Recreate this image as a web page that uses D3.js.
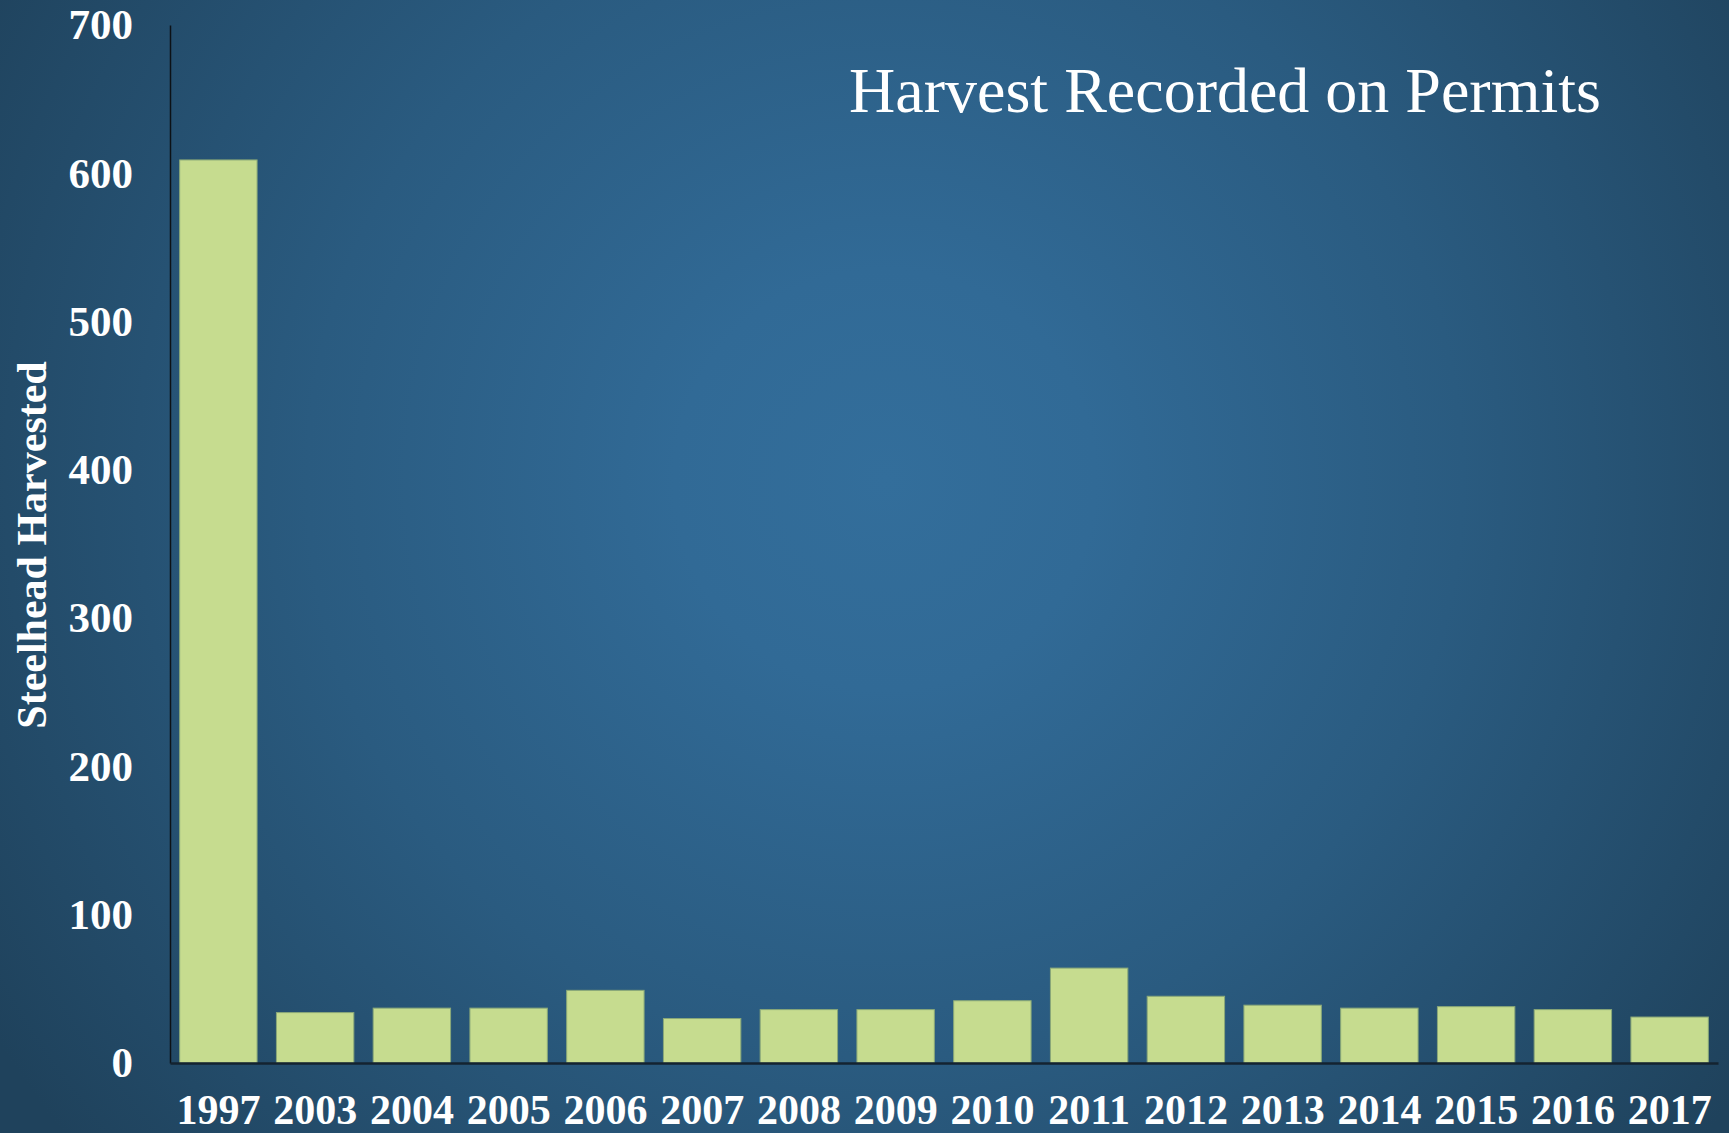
<!DOCTYPE html>
<html>
<head>
<meta charset="utf-8">
<script src="https://cdn.jsdelivr.net/npm/d3@7"></script>
<style>
  html, body { margin: 0; padding: 0; overflow: hidden; background: #22475f; }
  svg { display: block; }
</style>
</head>
<body>
<div class="chart"></div>
<script>
// values
const YEARS = ["1997", "2003", "2004", "2005", "2006", "2007", "2008", "2009",
  "2010", "2011", "2012", "2013", "2014", "2015", "2016", "2017"];
const HARVEST = [609, 34, 37, 37, 49, 30, 36, 36, 42, 64, 45, 39, 37, 38, 36, 31];
const Y_TICKS = [0, 100, 200, 300, 400, 500, 600, 700];
const TITLE = "Harvest Recorded on Permits";
const Y_LABEL = "Steelhead Harvested";

const W = 1729, H = 1133;
const margin = {top: 25, right: 11, bottom: 70, left: 170};
const width = W - margin.left - margin.right,
      height = H - margin.top - margin.bottom;

const svg = d3.select(".chart").append("svg")
  .attr("width", W)
  .attr("height", H);

// background - soft radial glow
const defs = svg.append("defs");
const grad = defs.append("radialGradient")
  .attr("id", "bg")
  .attr("gradientUnits", "userSpaceOnUse")
  .attr("cx", 885).attr("cy", 480).attr("r", 1050);
grad.append("stop").attr("offset", "0").attr("stop-color", "#336e9b");
grad.append("stop").attr("offset", "0.2").attr("stop-color", "#316a96");
grad.append("stop").attr("offset", "0.55").attr("stop-color", "#2a5b80");
grad.append("stop").attr("offset", "1").attr("stop-color", "#1f425c");

svg.append("rect").attr("width", W).attr("height", H).attr("fill", "url(#bg)");

const g = svg.append("g")
  .attr("transform", "translate(" + margin.left + "," + margin.top + ")");

const x = d3.scaleBand()
  .domain(YEARS)
  .range([0, width])
  .paddingInner(0.2)
  .paddingOuter(0.1);

const y = d3.scaleLinear()
  .domain([0, 700])
  .range([height, 0]);

const data = YEARS.map((yr, i) => ({year: yr, value: HARVEST[i]}));

// bars
g.selectAll(".bar")
  .data(data)
  .enter()
  .append("rect")
  .attr("class", "bar")
  .attr("x", d => x(d.year))
  .attr("width", x.bandwidth())
  .attr("y", d => y(d.value))
  .attr("height", d => height - y(d.value))
  .attr("fill", "#c6dc8f")
  .attr("stroke", "#8aa878")
  .attr("stroke-width", 1);

const font = "'Liberation Serif', 'Times New Roman', serif";

// y axis
const yAxis = g.append("g")
  .call(d3.axisLeft(y).tickValues(Y_TICKS).tickSize(0).tickPadding(37));
yAxis.select(".domain").attr("stroke", "#0c1116").attr("stroke-width", 1.5);
yAxis.selectAll("text")
  .attr("fill", "#ffffff")
  .style("font-family", font)
  .style("font-weight", "bold")
  .style("font-size", "43px");

// x axis - labels sit right at the bottom edge like the original
const xAxis = g.append("g")
  .attr("transform", "translate(0," + height + ")")
  .call(d3.axisBottom(x).tickSize(0).tickPadding(31));
xAxis.select(".domain").attr("stroke", "#142330").attr("stroke-width", 2.5);
xAxis.selectAll("text")
  .attr("fill", "#ffffff")
  .style("font-family", font)
  .style("font-weight", "bold")
  .style("font-size", "42px");

// y axis title
svg.append("text")
  .attr("transform", "translate(46,545) rotate(-90)")
  .attr("text-anchor", "middle")
  .attr("fill", "#ffffff")
  .style("font-family", font)
  .style("font-weight", "bold")
  .style("font-size", "42px")
  .text(Y_LABEL);

// chart title
svg.append("text")
  .attr("x", 1225)
  .attr("y", 112)
  .attr("text-anchor", "middle")
  .attr("fill", "#ffffff")
  .style("font-family", font)
  .style("font-size", "64px")
  .text(TITLE);
</script>
</body>
</html>
